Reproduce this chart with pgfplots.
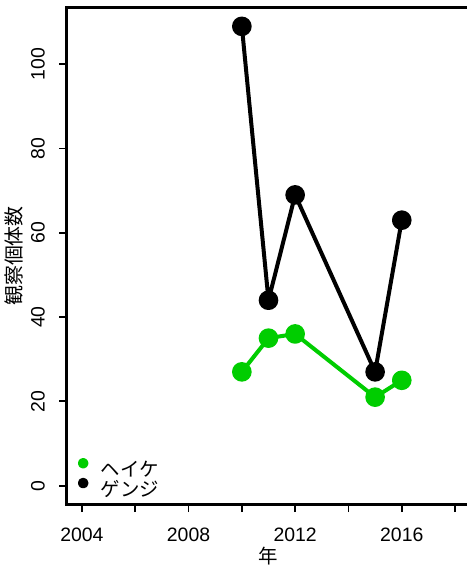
\documentclass[border=0pt]{standalone}
\usepackage{pgfplots}
\pgfplotsset{compat=1.18}
\usepackage{fontspec}
\setmainfont{Liberation Sans}
\newfontfamily\jp{Noto Sans CJK JP}
\definecolor{rgreen}{HTML}{00CD00}
\begin{document}
\begin{tikzpicture}
\useasboundingbox (-67bp,-65bp) rectangle (400bp,504bp);
\begin{axis}[
  at={(0,0)}, anchor=south west,
  scale only axis, width=403bp, height=496bp,
  xmin=2003.44, xmax=2018.56, ymin=-4.36, ymax=113.36,
  axis line style={line width=3bp},
  tick style={line width=1.8bp, black},
  tick align=outside, major tick length=8bp,
  tick pos=left,
  xtick={2004,2006,...,2018},
  xticklabels={2004,,2008,,2012,,2016,},
  ytick={0,20,...,100},
  yticklabels={0,20,40,60,80,100},
  ticklabel style={font=\fontsize{19.5}{20}\selectfont},
  xticklabel style={anchor=north, inner sep=0pt},
  yticklabel style={rotate=90, anchor=south, inner sep=0pt},
  xticklabel shift=16bp,
  yticklabel shift=14bp,
  xlabel={\jp 年},
  xlabel style={at={(axis description cs:0.5,-0.119)}, anchor=base, font=\fontsize{19.5}{20}\selectfont},
  ylabel={\jp 観察個体数},
  ylabel style={at={(axis description cs:-0.114,0.5)}, anchor=base, font=\fontsize{20}{21}\selectfont},
  legend image code/.code={\fill (3.3bp,7.2bp) circle (3.3bp);},
  legend cell align=left,
  legend style={draw=none, fill=none, at={(axis description cs:0.027,0.008)}, anchor=south west,
    inner sep=0pt, outer sep=0pt, row sep=-2.4bp, column sep=12.5bp,
    font=\fontsize{19.5}{20}\selectfont\jp,
    nodes={inner sep=0pt, text height=15.6bp, text depth=3.9bp}},
  every axis plot/.append style={line width=4bp, line join=round, line cap=round},
]
\addplot[rgreen, mark=*, mark size=7.8bp, mark options={draw=none, fill=rgreen}]
  coordinates {(2010,27)(2011,35)(2012,36)(2015,21)(2016,25)};
\addlegendentry{ヘイケ}
\addplot[black, mark=*, mark size=7.8bp, mark options={draw=none, fill=black}]
  coordinates {(2010,109)(2011,44)(2012,69)(2015,27)(2016,63)};
\addlegendentry{ゲンジ}
\end{axis}
\end{tikzpicture}
\end{document}
